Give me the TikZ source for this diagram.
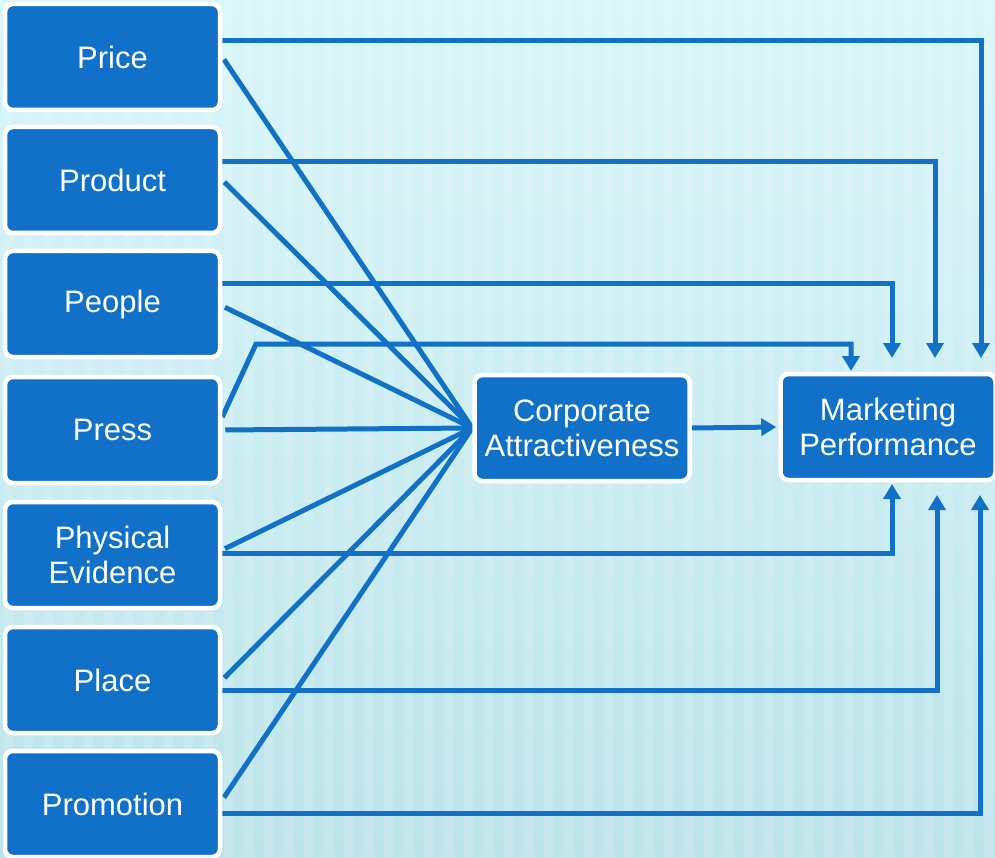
\documentclass[tikz,border=0pt]{standalone}
\usepackage{fontspec}
\setmainfont{Liberation Sans}
\usetikzlibrary{arrows.meta,calc}
\definecolor{boxblue}{HTML}{1170C8}
\definecolor{bgtop}{HTML}{D9F6FA}
\definecolor{bgbot}{HTML}{BCE4EA}
\pgfdeclarelayer{back}
\pgfdeclarelayer{lines}
\pgfsetlayers{back,lines,main}
\begin{document}
\begin{tikzpicture}[x=1pt,y=-1pt,
  box/.style={draw=white, line width=4.5pt, fill=boxblue, rounded corners=8pt,
    minimum width=215pt, minimum height=106pt, text=white,
    font=\fontsize{31}{35}\selectfont, align=center, inner sep=0pt},
  link/.style={draw=boxblue, line width=5pt},
  arr/.style={link, -{Triangle[width=17pt,length=15pt]}}]
\useasboundingbox (0,0) rectangle (995,858);
\begin{pgfonlayer}{back}
  \shade[top color=bgtop, bottom color=bgbot] (0,0) rectangle (995,858);
  \foreach \i in {0,...,49}
    \fill[white, opacity=0.14] (\i*20+4,0) rectangle ++(9,858);
\end{pgfonlayer}
% nodes
\node[box] (price) at (112.5,57) {Price};
\node[box] (product) at (112.5,180) {Product};
\node[box] (people) at (112.5,304) {People};
\node[box] (press) at (112.5,430) {Press};
\node[box] (pe) at (112.5,555) {Physical\\Evidence};
\node[box] (place) at (112.5,680) {Place};
\node[box] (promo) at (112.5,804) {Promotion};
\node[box] (ca) at (582,428) {Corporate\\Attractiveness};
\node[box] (mp) at (888,427) {Marketing\\Performance};
% free ends
\coordinate (t1) at (981,358);
\coordinate (t2) at (935,358);
\coordinate (t3) at (892,358);
\coordinate (t4) at (851,371);
\coordinate (b1) at (892,484);
\coordinate (b2) at (937,495);
\coordinate (b3) at (980,495);
\coordinate (pk) at (256,344);
\begin{pgfonlayer}{lines}
  % diagonals to Corporate Attractiveness
  \draw[link, shorten <=3pt] (price.east) -- (ca.west);
  \draw[link, shorten <=3pt] (product.east) -- (ca.west);
  \draw[link, shorten <=3pt] ([yshift=-2pt]people.east) -- (ca.west);
  \draw[link, shorten <=3pt] (press.east) -- (ca.west);
  \draw[link, shorten <=3pt] ([yshift=5pt]pe.east) -- (ca.west);
  \draw[link, shorten <=3pt] (place.east) -- (ca.west);
  \draw[link, shorten <=3pt] ([yshift=4pt]promo.east) -- (ca.west);
  % direct links to Marketing Performance
  \draw[arr] ([yshift=16pt]price.east) -| (t1);
  \draw[arr] ([yshift=18pt]product.east) -| (t2);
  \draw[arr] ([yshift=20pt]people.east) -| (t3);
  \draw[arr] ([yshift=13pt]press.east) -- (pk) -| (t4);
  \draw[arr] ([yshift=2pt]pe.east) -| (b1);
  \draw[arr] ([yshift=-10pt]place.east) -| (b2);
  \draw[arr] ([yshift=-9pt]promo.east) -| (b3);
  % mediator
  \draw[arr, shorten >=2pt] (ca.east) -- (mp.west);
\end{pgfonlayer}
\end{tikzpicture}
\end{document}
